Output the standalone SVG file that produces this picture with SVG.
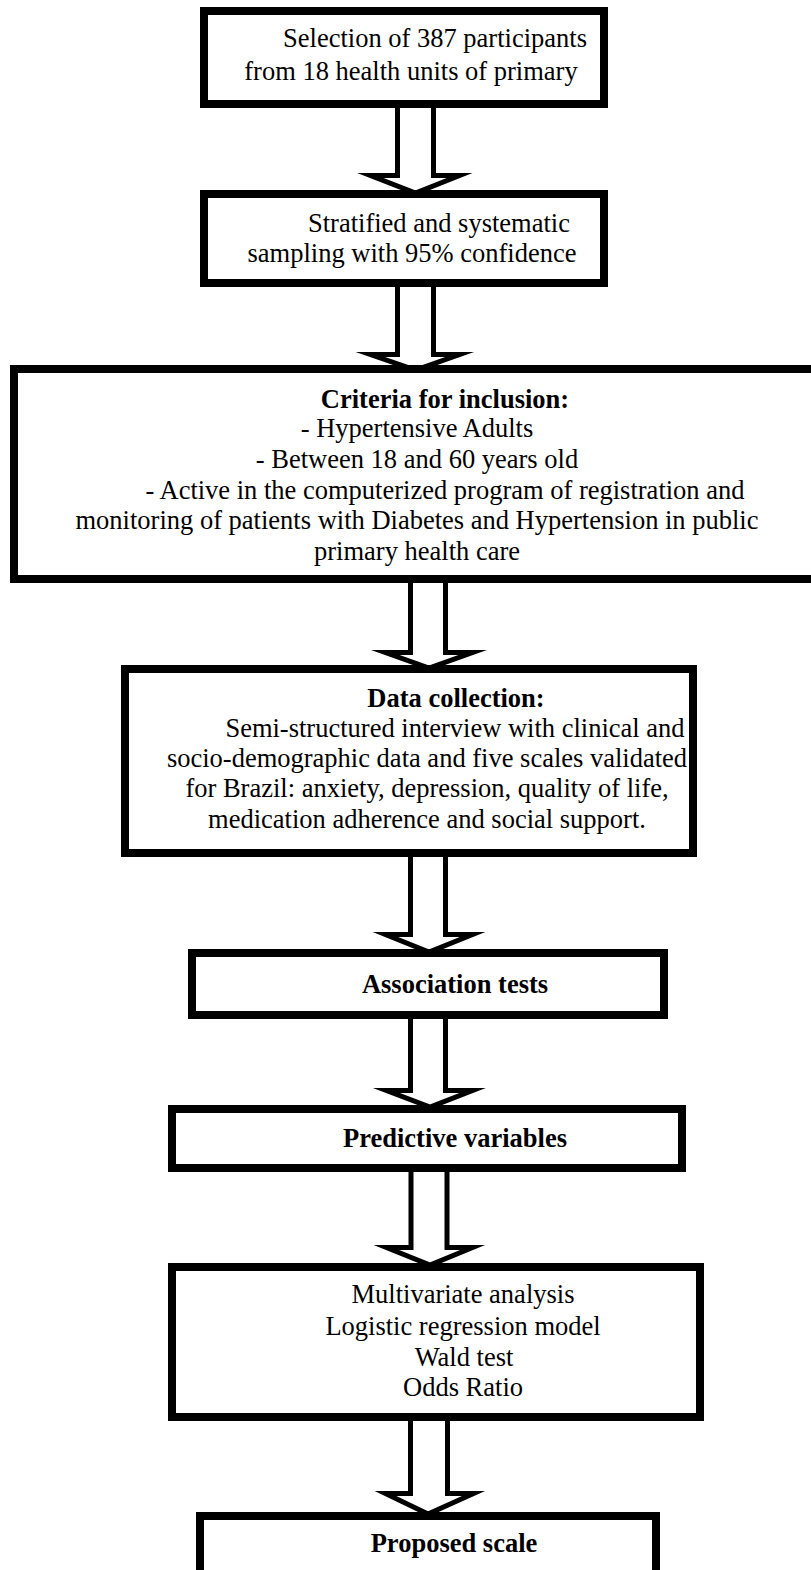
<svg xmlns="http://www.w3.org/2000/svg" width="811" height="1570" viewBox="0 0 811 1570">
<style>
.box{fill:#fff;stroke:#000;stroke-width:8}
.arr{fill:#fff;stroke:#000;stroke-width:5;stroke-miterlimit:10}
text{font-family:"Liberation Serif","Times New Roman",serif;font-size:26.5px;fill:#000;text-anchor:middle}
.b{font-weight:bold}
</style>
<rect width="811" height="1570" fill="#fff"/>
<g id="connectors">
<polygon class="arr" points="397.5,104 397.5,175.5 370.5,175.5 415.5,193 459.5,175.5 433.5,175.5 433.5,104"/>
<polygon class="arr" points="397.5,283 397.5,354.5 370.5,354.5 415.5,370 459.5,354.5 433.5,354.5 433.5,283"/>
<polygon class="arr" points="410.5,579 410.5,652.5 385.5,652.5 429,668 472.5,652.5 445.5,652.5 445.5,579"/>
<polygon class="arr" points="410.5,853 410.5,934.5 385.5,934.5 429,952 472.5,934.5 445.5,934.5 445.5,853"/>
<polygon class="arr" points="410.5,1015 410.5,1090.5 386.5,1090.5 430,1107 472.5,1090.5 445.5,1090.5 445.5,1015"/>
<polygon class="arr" points="411,1168 411,1247.5 386.5,1247.5 430,1265 472.5,1247.5 447,1247.5 447,1168"/>
<polygon class="arr" points="410.5,1417 410.5,1493.5 385.5,1493.5 428,1514 473.5,1493.5 447.5,1493.5 447.5,1417"/>
</g>
<g id="n1">
<rect class="box" x="204" y="11" width="400" height="93"/>
<text x="435" y="47">Selection of 387 participants</text>
<text x="411" y="80">from 18 health units of primary</text>
</g>
<g id="n2">
<rect class="box" x="204" y="194" width="400" height="89"/>
<text x="439" y="232">Stratified and systematic</text>
<text x="412" y="262">sampling with 95% confidence</text>
</g>
<g id="n3">
<rect class="box" x="14" y="369" width="810" height="210"/>
<text class="b" x="445" y="408">Criteria for inclusion:</text>
<text x="417" y="437">- Hypertensive Adults</text>
<text x="417" y="468">- Between 18 and 60 years old</text>
<text x="445" y="499">- Active in the computerized program of registration and</text>
<text x="417" y="529">monitoring of patients with Diabetes and Hypertension in public</text>
<text x="417" y="560">primary health care</text>
</g>
<g id="n4">
<rect class="box" x="125" y="669" width="568" height="184"/>
<text class="b" x="456" y="707">Data collection:</text>
<text x="455" y="737">Semi-structured interview with clinical and</text>
<text x="427" y="767">socio-demographic data and five scales validated</text>
<text x="427" y="797">for Brazil: anxiety, depression, quality of life,</text>
<text x="427" y="828">medication adherence and social support.</text>
</g>
<g id="n5">
<rect class="box" x="192" y="953" width="472" height="62"/>
<text class="b" x="455" y="993">Association tests</text>
</g>
<g id="n6">
<rect class="box" x="172" y="1109" width="510" height="59"/>
<text class="b" x="455" y="1147">Predictive variables</text>
</g>
<g id="n7">
<rect class="box" x="172" y="1267" width="528" height="150"/>
<text x="463" y="1303">Multivariate analysis</text>
<text x="463" y="1335">Logistic regression model</text>
<text x="464" y="1366">Wald test</text>
<text x="463" y="1396">Odds Ratio</text>
</g>
<g id="n8">
<rect class="box" x="200" y="1516" width="456" height="100"/>
<text class="b" x="454" y="1552">Proposed scale</text>
</g>
</svg>
